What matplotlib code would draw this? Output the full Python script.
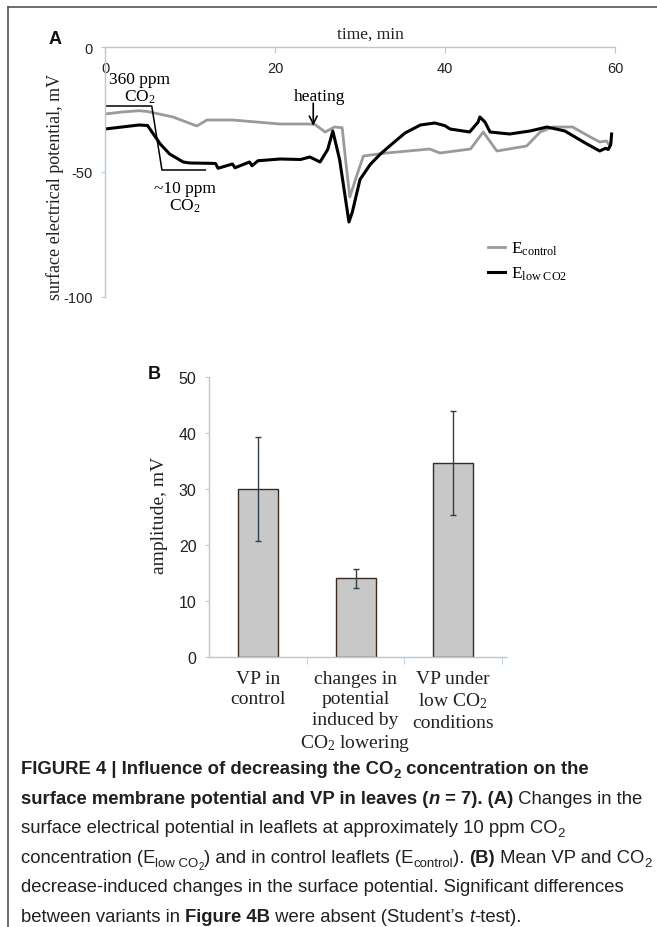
import matplotlib
matplotlib.use("Agg")
import matplotlib.pyplot as plt
from matplotlib.lines import Line2D
from matplotlib.font_manager import FontProperties

# ---------------- data ----------------
ctrl_t = [0, 2, 4, 5, 8, 10.8, 12, 15, 20.6, 24, 24.7, 25.9, 27, 27.9, 28.3, 28.8,
          29.6, 30.4, 33.1, 36, 38.2, 39.4, 43, 44.5, 46.1, 49.6, 51.2, 52.7, 55,
          57.1, 58.2, 59, 59.4]
ctrl_v = [-26.8, -26, -25.5, -25.8, -28, -31.6, -29.2, -29.2, -30.8, -30.8, -31, -34,
          -32, -32.3, -45, -60, -51.6, -43.6, -42.4, -41.5, -40.8, -42.4, -40.8, -34,
          -41.6, -39.6, -34, -32, -32, -36, -38, -37.6, -39.6]

low_t = [0, 2, 4, 5, 6.5, 7.6, 9.2, 10, 12, 13, 13.3, 15, 15.3, 17, 17.3, 18, 20.6,
         23, 24.1, 25.3, 26.2, 26.8, 27.6, 28.7, 29.1, 30, 31.2, 32.4, 33.9, 35.3,
         37.1, 38.8, 40, 40.6, 42.9, 43.9, 44.1, 44.7, 45.3, 47.6, 50, 52, 54.1,
         56.5, 58.2, 58.9, 59.2, 59.5, 59.6]
low_v = [-32.8, -32, -31.2, -31.4, -38.8, -42.8, -46, -46.4, -46.5, -46.6, -48.5,
         -46.8, -48.3, -46, -47.5, -45.5, -44.8, -45, -44, -46, -41, -33.6, -45,
         -70, -66, -53, -47, -42.8, -38.4, -34.4, -31.2, -30.4, -31.5, -32.8, -34,
         -30, -28, -30, -34, -34.8, -33.6, -32, -33.6, -38.4, -41.6, -40.5, -41,
         -39, -34.8]

xticks_a = [0, 20, 40, 60]
yticks_a = [0, -50, -100]

# CO2 switching bracket (minutes, mV)
bracket_t = [0, 5.5, 6.7, 11.8]
bracket_v = [-23.6, -23.6, -49.2, -49.2]

categories = ["VP in\ncontrol",
              "changes in\npotential\ninduced by\nCO$_2$ lowering",
              "VP under\nlow CO$_2$\nconditions"]
means = [30.0, 14.1, 34.7]
errs = [9.3, 1.7, 9.3]
yticks_b = [0, 10, 20, 30, 40, 50]

# ---------------- style ----------------
plt.rcParams["mathtext.fontset"] = "custom"
plt.rcParams["mathtext.rm"] = "Liberation Serif"
plt.rcParams["mathtext.it"] = "Liberation Serif:italic"
plt.rcParams["mathtext.bf"] = "Liberation Serif:bold"

W, H = 657, 928
SERIF = "Liberation Serif"
SANS = "Liberation Sans"
CAPFONT = SANS
SPINE = "#b4c8d8"

fig = plt.figure(figsize=(W / 100, H / 100), dpi=100)
fig.patch.set_facecolor("white")


def fx(px):
    return px / W


def fy(py):
    return 1 - py / H


# frame
fig.add_artist(Line2D([fx(8), fx(8)], [fy(8), fy(928)], color="#555555", lw=1.2))
fig.add_artist(Line2D([fx(8), fx(657)], [fy(8), fy(8)], color="#555555", lw=1.2))

# ---------------- panel A ----------------
axA = fig.add_axes([fx(105), fy(298), 510 / W, 250 / H])
axA.plot(ctrl_t, ctrl_v, color="#9a9a9a", lw=2.0, label=r"E$_{\mathrm{control}}$")
axA.plot(low_t, low_v, color="black", lw=2.2, label=r"E$_{\mathrm{low\ CO2}}$")
axA.set_xlim(0, 60)
axA.set_ylim(-100, 0)
for s in ["bottom", "right"]:
    axA.spines[s].set_visible(False)
for s in ["top", "left"]:
    axA.spines[s].set_color(SPINE)
    axA.spines[s].set_linewidth(1.0)
axA.xaxis.set_ticks_position("top")
axA.set_xticks(xticks_a, [str(v) for v in xticks_a])
axA.set_yticks(yticks_a, [str(v) for v in yticks_a])
axA.tick_params(axis="x", direction="in", length=4, color=SPINE, pad=-20,
                labelsize=10.5, labelfontfamily=SANS, labelcolor="#222222")
axA.tick_params(axis="y", direction="out", length=3, color=SPINE, pad=6,
                labelsize=10.5, labelfontfamily=SANS, labelcolor="#222222")
axA.xaxis.set_label_position("top")
axA.set_xlabel("time, min", family=SERIF, fontsize=12.5, color="#222222")
axA.xaxis.set_label_coords(0.52, 1 + 13 / 250)
axA.xaxis.label.set_va("center")
axA.set_ylabel("surface electrical potential, mV", family=SERIF, fontsize=13,
               color="#222222")
axA.yaxis.set_label_coords(-50 / 510, 1 - (187 - 48) / 250)
axA.yaxis.label.set_va("center")

axA.plot(bracket_t, bracket_v, color="black", lw=1.1)
axA.text(4.1, -16.4, "360 ppm\nCO$_2$", family=SERIF, fontsize=12.5, ha="center",
         va="center", linespacing=1.0)
axA.text(9.4, -60, "~10 ppm\nCO$_2$", family=SERIF, fontsize=12.5, ha="center",
         va="center", linespacing=1.0)
axA.text(25.3, -19.6, "heating", family=SERIF, fontsize=12.5, ha="center", va="center")
axA.annotate("", xy=(24.5, -31.5), xytext=(24.5, -22.5),
             arrowprops=dict(arrowstyle="->", lw=1.2, color="black",
                             shrinkA=0, shrinkB=0, mutation_scale=14))
leg = axA.legend(loc="center left", bbox_to_anchor=((488 - 105) / 510, 1 - (262 - 48) / 250),
                 frameon=False, handlelength=1.0, handletextpad=0.3, labelspacing=0.45,
                 borderpad=0, borderaxespad=0, prop=FontProperties(family=SERIF, size=12.5))

fig.text(fx(55), fy(40), "A", family=SANS, weight="bold", fontsize=13, ha="center",
         va="center", color="#111111")

# ---------------- panel B ----------------
B_TOP, B_BOT = 378, 658
axB = fig.add_axes([fx(209), fy(B_BOT), 297 / W, (B_BOT - B_TOP) / H])
xb = list(range(len(categories)))
axB.bar(xb, means, width=0.41, color="#c8c8c8", edgecolor="#3a2a20", lw=1.0,
        yerr=errs, capsize=2.5,
        error_kw=dict(ecolor="#333f48", elinewidth=1.0, capthick=1.0))
axB.set_xlim(-0.5, 2.54)
axB.set_ylim(0, 50)
for s in ["top", "right"]:
    axB.spines[s].set_visible(False)
for s in ["bottom", "left"]:
    axB.spines[s].set_color(SPINE)
    axB.spines[s].set_linewidth(1.0)
axB.set_yticks(yticks_b, [str(v) for v in yticks_b])
axB.tick_params(axis="y", direction="out", length=3, color=SPINE, pad=6,
                labelsize=11.5, labelfontfamily=SANS, labelcolor="#222222")
axB.set_xticks(xb, categories)
axB.set_xticks([0.5, 1.5, 2.5], minor=True)
axB.tick_params(axis="x", which="major", length=0, pad=9)
axB.tick_params(axis="x", which="minor", length=5, color=SPINE, direction="out")
for lab in axB.get_xticklabels():
    lab.set_family(SERIF)
    lab.set_fontsize(14)
    lab.set_linespacing(1.28)
    lab.set_va("top")
    lab.set_color("#222222")
axB.set_ylabel("amplitude, mV", family=SERIF, fontsize=14, color="#222222")
axB.yaxis.set_label_coords((160 - 209) / 297, 1 - (515 - B_TOP) / (B_BOT - B_TOP))
axB.yaxis.label.set_va("center")

fig.text(fx(154), fy(375), "B", family=SANS, weight="bold", fontsize=13, ha="center",
         va="center", color="#111111")

# ---------------- caption ----------------
renderer = fig.canvas.get_renderer()


def piece_width(txt, size, weight, style):
    fp = FontProperties(family=CAPFONT, size=size, weight=weight, style=style)
    w1, _, _ = renderer.get_text_width_height_descent(txt + "|", fp, ismath=False)
    w0, _, _ = renderer.get_text_width_height_descent("|", fp, ismath=False)
    return w1 - w0


def rich_line(x_px, y_px, pieces, size, draw=True):
    x = x_px
    for txt, kw in pieces:
        lvl = kw.get("sub", 0)
        fs = size * (0.72 ** lvl)
        dy = [0, 0.22, 0.40][lvl] * size * 100 / 72
        weight = kw.get("weight", "normal")
        style = kw.get("style", "normal")
        if draw:
            fig.text(fx(x), fy(y_px + dy), txt, fontsize=fs, weight=weight, style=style,
                     family=CAPFONT, va="baseline", ha="left", color="#231f20")
        x += piece_width(txt, fs, weight, style)
    return x


B = dict(weight="bold")
R = dict()
cap_lines = [
    [("FIGURE 4 | Influence of decreasing the CO", B), ("2", dict(weight="bold", sub=1)),
     (" concentration on the", B)],
    [("surface membrane potential and VP in leaves (", B),
     ("n", dict(weight="bold", style="italic")), (" = 7). (A)", B), (" Changes in the", R)],
    [("surface electrical potential in leaflets at approximately 10 ppm CO", R),
     ("2", dict(sub=1))],
    [("concentration (E", R), ("low CO", dict(sub=1)), ("2", dict(sub=2)),
     (") and in control leaflets (E", R), ("control", dict(sub=1)), ("). ", R),
     ("(B)", B), (" Mean VP and CO", R), ("2", dict(sub=1))],
    [("decrease-induced changes in the surface potential. Significant differences", R)],
    [("between variants in ", R), ("Figure 4B", B), (" were absent (Student\u2019s ", R),
     ("t", dict(style="italic")), ("-test).", R)],
]

x0 = 21
s0 = 11.0
wline = rich_line(x0, 0, cap_lines[1], s0, draw=False) - x0
size = s0 * (645 - x0) / wline
for i, ln in enumerate(cap_lines):
    rich_line(x0, 774 + 29.6 * i, ln, size)

fig.savefig("out.png", dpi=100, facecolor="white")
